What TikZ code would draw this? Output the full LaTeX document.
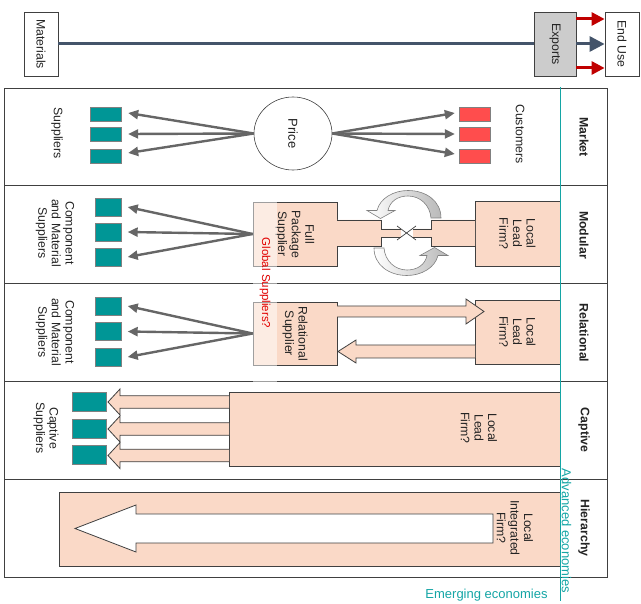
\documentclass[tikz,border=0pt]{standalone}
\usepackage{fontspec}
\setmainfont{Liberation Sans}
\usetikzlibrary{arrows.meta,shapes.geometric,calc}
\definecolor{tealc}{RGB}{0,150,150}
\definecolor{tealline}{RGB}{20,165,165}
\definecolor{redsq}{RGB}{255,77,77}
\definecolor{peach}{RGB}{250,217,199}
\definecolor{garr}{RGB}{102,102,102}
\definecolor{slate}{RGB}{68,84,106}
\definecolor{darkred}{RGB}{192,0,0}
\definecolor{bord}{RGB}{64,64,64}
\definecolor{txt}{RGB}{35,35,35}
\definecolor{gsred}{RGB}{225,0,0}
\begin{document}
\begin{tikzpicture}[x=1pt,y=-1pt,
  every node/.style={font=\fontsize{12.3}{13.6}\selectfont, text=txt, inner sep=0pt, align=center},
  rtext/.style={rotate=-90},
  rbox/.style={rotate=-90, draw=bord, line width=0.8pt},
  tsq/.style={rectangle, fill=tealc, draw=gray, line width=0.4pt},
  rsq/.style={rectangle, fill=redsq, draw=gray, line width=0.4pt},
  garrow/.style={draw=garr, line width=2.4pt, -{Triangle[length=10pt,width=9pt]}},
  redarrow/.style={draw=darkred, line width=3pt, -{Triangle[length=13pt,width=13pt]}},
  slatearrow/.style={draw=slate, line width=3pt, -{Triangle[length=15pt,width=15pt]}},
  blockfill/.style={fill=peach, draw=none},
  blockline/.style={draw=bord, line width=0.8pt},
  rowlabel/.style={rotate=-90, font=\bfseries\fontsize{12.3}{14}\selectfont},
  econ/.style={text=tealline, font=\fontsize{13}{15}\selectfont}
]
\useasboundingbox (0,0) rectangle (641,604);

% ---------- top flow ----------
\node[rbox, minimum width=64pt, minimum height=34pt] (mat) at (41,44) {Materials};
\node[rbox, fill=gray!40, minimum width=64pt, minimum height=42pt] (exp) at (555,44) {Exports};
\node[rbox, minimum width=64pt, minimum height=34pt] (use) at (622,44) {End Use};
\draw[slate, line width=3pt] (mat) -- (exp);
\draw[slatearrow] (exp.north) -- (use.south);
\draw[redarrow] ([yshift=25pt]exp.north) -- ([yshift=25pt]use.south);
\draw[redarrow] ([yshift=-24pt]exp.north) -- ([yshift=-24pt]use.south);

% ---------- table frame ----------
\draw[bord, line width=0.8pt] (4,88) rectangle (607,577);
\foreach \yy in {185.8,283.6,381.4,479.2} \draw[bord, line width=0.8pt] (4,\yy) -- (607,\yy);
\draw[bord, line width=0.8pt] (560,88) -- (560,577);

% ---------- Market ----------
\node[tsq, minimum width=31pt, minimum height=14pt] (m1) at (105.5,114) {};
\node[tsq, minimum width=31pt, minimum height=14pt] (m2) at (105.5,134) {};
\node[tsq, minimum width=31pt, minimum height=14pt] (m3) at (105.5,156) {};
\node[rsq, minimum width=31pt, minimum height=14pt] (k1) at (474.5,114) {};
\node[rsq, minimum width=31pt, minimum height=14pt] (k2) at (474.5,134) {};
\node[rsq, minimum width=31pt, minimum height=14pt] (k3) at (474.5,156) {};
\node[ellipse, draw=bord, line width=0.6pt, rotate=-90, minimum width=73pt, minimum height=78pt] (price) at (293,133.5) {\fontsize{13}{14}\selectfont Price};
\draw[garrow] (price.south) -- ([xshift=7pt,yshift=1pt]m1.east);
\draw[garrow] (price.south) -- ([xshift=7pt]m2.east);
\draw[garrow] (price.south) -- ([xshift=7pt,yshift=3pt]m3.east);
\draw[garrow] (price.north) -- ([xshift=-4pt,yshift=1pt]k1.west);
\draw[garrow] (price.north) -- ([xshift=-4pt]k2.west);
\draw[garrow] (price.north) -- ([xshift=-4pt,yshift=2pt]k3.west);
\node[rtext] (sup) at (57,133) {Suppliers};
\node[rtext] (cus) at (520,134) {Customers};
\node[rowlabel] (lmarket) at (584,137) {Market};

% ---------- Modular ----------
\node[tsq, minimum width=26pt, minimum height=18pt] (d1) at (108.5,207) {};
\node[tsq, minimum width=26pt, minimum height=18pt] (d2) at (108.5,232) {};
\node[tsq, minimum width=26pt, minimum height=18pt] (d3) at (108.5,257) {};
\node[rtext] (comp1) at (55,233) {Component\\and Material\\Suppliers};
\node[rbox, fill=peach, minimum width=64pt, minimum height=84pt] (fps) at (295,234) {Full\\Package\\Supplier};
\node[rbox, fill=peach, minimum width=65pt, minimum height=85pt] (llf1) at (517.5,233.5) {Local\\Lead\\Firm?};
\draw[garrow] (fps.south) -- ([xshift=6pt]d1.east);
\draw[garrow] (fps.south) -- ([xshift=6pt]d2.east);
\draw[garrow] (fps.south) -- ([xshift=6pt]d3.east);
% plugs
\fill[blockfill] (337,220) -- (381,220) -- (381,229) -- (401,229) -- (401,237) -- (381,237) -- (381,246) -- (337,246) -- cycle;
\draw[blockline] (337,220) -- (381,220) -- (381,229) -- (401,229);
\draw[blockline] (401,237) -- (381,237) -- (381,246) -- (337,246);
\fill[blockfill] (475,220) -- (431,220) -- (431,229) -- (413,229) -- (413,237) -- (431,237) -- (431,246) -- (475,246) -- cycle;
\draw[blockline] (475,220) -- (431,220) -- (431,229) -- (413,229);
\draw[blockline] (413,237) -- (431,237) -- (431,246) -- (475,246);
\draw[bord, line width=0.7pt] (397,226) -- (416,240);
\draw[bord, line width=0.7pt] (397,240) -- (416,226);
% cycle arrows
\shade[left color=white, right color=gray!55, draw=gray, line width=0.6pt]
  (441,218) .. controls (441,201) and (426,190.5) .. (408,190.5)
  .. controls (394,190.5) and (380,198) .. (377,210.5)
  -- (367,210.5) -- (380.5,218.5) -- (395,210.5) -- (388,210.5)
  .. controls (390,201) and (398,196) .. (408,196)
  .. controls (420,196) and (430,205) .. (431,218) -- cycle;
\begin{scope}[rotate around={180:(407.5,233)}]
\shade[left color=white, right color=gray!55, draw=gray, line width=0.6pt]
  (441,218) .. controls (441,201) and (426,190.5) .. (408,190.5)
  .. controls (394,190.5) and (380,198) .. (377,210.5)
  -- (367,210.5) -- (380.5,218.5) -- (395,210.5) -- (388,210.5)
  .. controls (390,201) and (398,196) .. (408,196)
  .. controls (420,196) and (430,205) .. (431,218) -- cycle;
\end{scope}
\node[rowlabel] (lmodular) at (584,235) {Modular};

% ---------- Relational ----------
\node[tsq, minimum width=26pt, minimum height=18pt] (r1) at (108.5,306) {};
\node[tsq, minimum width=26pt, minimum height=18pt] (r2) at (108.5,331.5) {};
\node[tsq, minimum width=26pt, minimum height=18pt] (r3) at (108.5,357) {};
\node[rtext] (comp2) at (55,332) {Component\\and Material\\Suppliers};
\node[rbox, fill=peach, minimum width=63pt, minimum height=84pt] (rs) at (295,333.5) {Relational\\Supplier};
\node[rbox, fill=peach, minimum width=64pt, minimum height=85pt] (llf2) at (517.5,332) {Local\\Lead\\Firm?};
\draw[garrow] (rs.south) -- ([xshift=6pt]r1.east);
\draw[garrow] (rs.south) -- ([xshift=6pt]r2.east);
\draw[garrow] (rs.south) -- ([xshift=6pt]r3.east);
\fill[blockfill] (337,306) -- (466,306) -- (466,299) -- (484,311.5) -- (466,324) -- (466,317) -- (337,317) -- cycle;
\draw[blockline] (337,306) -- (466,306) -- (466,299) -- (484,311.5) -- (466,324) -- (466,317) -- (337,317);
\fill[blockfill] (475,345) -- (356,345) -- (356,340) -- (338,351.5) -- (356,363) -- (356,358) -- (475,358) -- cycle;
\draw[blockline] (475,345) -- (356,345) -- (356,340) -- (338,351.5) -- (356,363) -- (356,358) -- (475,358);
\node[rowlabel] (lrel) at (584,333) {Relational};

% Global suppliers band
\fill[white, opacity=0.5] (253,201) rectangle (277,382);
\node[rtext, text=gsred, font=\fontsize{11.5}{13}\selectfont] (gs) at (265,283) {Global Suppliers?};

% ---------- Captive ----------
\node[tsq, minimum width=34pt, minimum height=19pt] (c1) at (89,402) {};
\node[tsq, minimum width=34pt, minimum height=19pt] (c2) at (89,428.5) {};
\node[tsq, minimum width=34pt, minimum height=19pt] (c3) at (89,455) {};
\node[rtext] (capsup) at (46,428) {Captive\\Suppliers};
\node[draw=bord, line width=0.8pt, fill=peach, minimum width=331pt, minimum height=74pt] (llf3) at (394.5,429) {};
\node[rtext] (llf3t) at (479,428) {Local\\Lead\\Firm?};
\foreach \c in {402,429,455.5}{
  \fill[blockfill] (229,\c-6.3) -- (120,\c-6.3) -- (120,\c-13) -- (108,\c) -- (120,\c+13) -- (120,\c+6.3) -- (229,\c+6.3) -- cycle;
  \draw[blockline] (229,\c-6.3) -- (120,\c-6.3) -- (120,\c-13) -- (108,\c) -- (120,\c+13) -- (120,\c+6.3) -- (229,\c+6.3);
}
\node[rowlabel] (lcap) at (584,430) {Captive};

% ---------- Hierarchy ----------
\node[draw=bord, line width=0.8pt, fill=peach, minimum width=501pt, minimum height=74pt] (hier) at (309.5,529) {};
\filldraw[fill=white, draw=bord, line width=0.8pt] (493,514) -- (136,514) -- (136,505) -- (75,528.5) -- (136,552) -- (136,543) -- (493,543) -- cycle;
\node[rtext] (hiert) at (515,528) {Local\\Integrated\\Firm?};
\node[rowlabel] (lhier) at (584,528) {Hierarchy};

% ---------- economies ----------
\draw[tealline, line width=1pt] (560,87) -- (560,601);
\node[econ] (emg) at (486.5,595) {Emerging economies};
\node[econ, rotate=-90] (adv) at (566.5,531) {Advanced economies};
\end{tikzpicture}
\end{document}
